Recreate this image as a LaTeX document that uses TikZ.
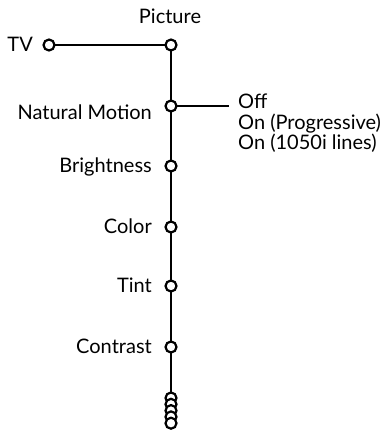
\documentclass[tikz,border=0pt]{standalone}
\usepackage{fontspec}
\setmainfont{Lato}
\begin{document}
\begin{tikzpicture}[x=1pt,y=-1pt,
  dot/.style={circle,draw,fill=white,line width=2.2pt,inner sep=0pt,minimum size=11pt},
  lbl/.style={font=\fontsize{20}{22}\selectfont,inner sep=0pt},
  thin/.style={line width=1.2pt},
  thick/.style={line width=2.4pt}]
\useasboundingbox (0,0) rectangle (386,430);
\coordinate (pic) at (171,45);
\coordinate (tv) at (49,45);
\coordinate (nm) at (171,106);
\coordinate (br) at (171,166);
\coordinate (co) at (171,227);
\coordinate (ti) at (171,286);
\coordinate (ct) at (171,347);
\coordinate (s1) at (171,398);
\coordinate (nmend) at (229,106);
\draw[thin] (tv) -- (pic);
\draw[thin] (nm) -- (nmend);
\draw[thick] (pic) -- (s1);
\node[dot] (ntv) at (tv) {};
\node[dot] (npic) at (pic) {};
\node[dot] (nnm) at (nm) {};
\node[dot] (nbr) at (br) {};
\node[dot] (nco) at (co) {};
\node[dot] (nti) at (ti) {};
\node[dot] (nct) at (ct) {};
\foreach \i in {0,...,4} {\node[dot] (st\i) at (171,398+6.3*\i) {};}
\node[lbl,anchor=base] (tpic) at (170,24) {Picture};
\node[lbl,anchor=base east] (ttv) at (33,52) {TV};
\node[lbl,anchor=base east] (tnm) at (152,120) {Natural Motion};
\node[lbl,anchor=base east] (tbr) at (152,172) {Brightness};
\node[lbl,anchor=base east] (tco) at (152,233) {Color};
\node[lbl,anchor=base east] (tti) at (152,292) {Tint};
\node[lbl,anchor=base east] (tct) at (152,353) {Contrast};
\node[lbl,anchor=base west] (toff) at (238,109) {Off};
\node[lbl,anchor=base west] (tprog) at (238,130) {On (Progressive)};
\node[lbl,anchor=base west] (tlines) at (238,150) {On (1050i lines)};
\end{tikzpicture}
\end{document}
